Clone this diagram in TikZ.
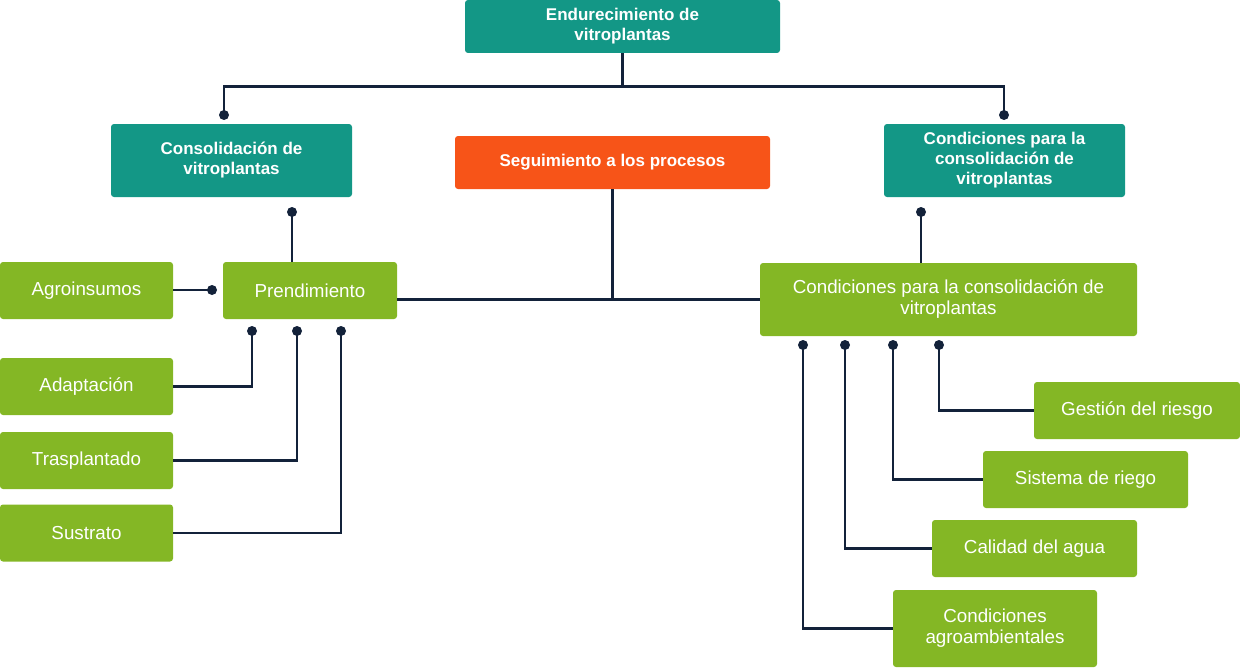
\documentclass[tikz,border=0pt]{standalone}
\usepackage{fontspec}
\setmainfont{Liberation Sans}
\usetikzlibrary{positioning,calc}
\definecolor{vtTeal}{RGB}{19,151,134}
\definecolor{vtOrange}{RGB}{247,84,24}
\definecolor{vtGreen}{RGB}{132,183,37}
\definecolor{vtLine}{RGB}{19,34,58}

\begin{document}
\begin{tikzpicture}[x=1pt,y=-1pt,
    box/.style={rounded corners=3pt, inner sep=0pt, align=center, text=white,
      font=\fontsize{18.8}{21}\selectfont},
    tealbox/.style={box, fill=vtTeal, font=\fontsize{17}{20}\selectfont\bfseries},
    greenbox/.style={box, fill=vtGreen},
    link/.style={vtLine, line width=2.9pt},
    dot/.style={fill=vtLine}]
  \useasboundingbox (0,0) rectangle (1240,669);

  % top level
  \node[tealbox, minimum width=315pt, minimum height=53pt] (top) at (622.5,26.5) {Endurecimiento de\\vitroplantas};
  \node[tealbox, minimum width=241pt, minimum height=73pt] (cons) at (231.5,160.5) {Consolidación de\\vitroplantas};
  \node[tealbox, fill=vtOrange, minimum width=315pt, minimum height=53pt] (seg) at (612.5,162.5) {Seguimiento a los procesos};
  \node[tealbox, minimum width=241pt, minimum height=73pt] (condT) at (1004.5,160.5) {Condiciones para la\\consolidación de\\vitroplantas};

  % left branch
  \node[greenbox, minimum width=174pt, minimum height=57pt] (prend) at (310,290.5) {Prendimiento};
  \node[greenbox, minimum width=173pt, minimum height=57pt] (agro) at (86.5,290.5) {Agroinsumos};
  \node[greenbox, minimum width=173pt, minimum height=57pt] (adap) at (86.5,386.5) {Adaptación};
  \node[greenbox, minimum width=173pt, minimum height=57pt] (tras) at (86.5,460.5) {Trasplantado};
  \node[greenbox, minimum width=173pt, minimum height=57pt] (sust) at (86.5,533) {Sustrato};

  % right branch
  \node[greenbox, minimum width=377pt, minimum height=73pt] (condG) at (948.5,299.5) {Condiciones para la consolidación de\\vitroplantas};
  \node[greenbox, minimum width=206pt, minimum height=57pt] (gest) at (1137,410.5) {Gestión del riesgo};
  \node[greenbox, minimum width=205pt, minimum height=57pt] (sist) at (1085.5,479.5) {Sistema de riego};
  \node[greenbox, minimum width=205pt, minimum height=57pt] (cal) at (1034.5,548.5) {Calidad del agua};
  \node[greenbox, minimum width=204pt, minimum height=77pt] (amb) at (995,628.5) {Condiciones\\agroambientales};

  % dot ends
  \coordinate (dCons) at (224,115);
  \coordinate (dCondT) at (1004,115);
  \coordinate (dPrend) at (292,212);
  \coordinate (dCondG) at (921,212);
  \coordinate (dAgro) at (212,290);
  \coordinate (dAdap) at (252,331);
  \coordinate (dTras) at (297,331);
  \coordinate (dSust) at (341,331);
  \coordinate (dAmb) at (803,345);
  \coordinate (dCal) at (845,345);
  \coordinate (dSist) at (893,345);
  \coordinate (dGest) at (939,345);

  % connectors
  \draw[link] (top.south) -- ++(0,33) coordinate (fork);
  \draw[link] (fork) -| (dCons);
  \draw[link] (fork) -| (dCondT);
  \draw[link] (dPrend) -- (dPrend |- prend.north);
  \draw[link] (dCondG) -- (dCondG |- condG.north);
  \draw[link] (agro.east |- dAgro) -- (dAgro);
  \draw[link] (prend.east |- condG.west) -- (condG.west);
  \draw[link] (seg.south) -- (seg.south |- condG.west);
  \draw[link] (adap.east) -| (dAdap);
  \draw[link] (tras.east) -| (dTras);
  \draw[link] (sust.east) -| (dSust);
  \draw[link] (gest.west) -| (dGest);
  \draw[link] (sist.west) -| (dSist);
  \draw[link] (cal.west) -| (dCal);
  \draw[link] (amb.west) -| (dAmb);

  \foreach \d in {dCons,dCondT,dPrend,dCondG,dAgro,dAdap,dTras,dSust,dAmb,dCal,dSist,dGest}
    \fill[dot] (\d) circle (5pt);
\end{tikzpicture}
\end{document}
